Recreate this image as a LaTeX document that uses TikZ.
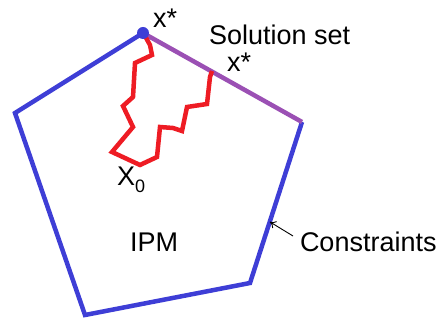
\documentclass[tikz,border=0pt]{standalone}
\usepackage{fontspec}
\setmainfont{Liberation Sans}
\usetikzlibrary{arrows.meta,calc}
\definecolor{polyblue}{RGB}{62,62,214}
\definecolor{solpurple}{RGB}{155,80,180}
\definecolor{pathred}{RGB}{238,28,36}
\tikzset{
  edge/.style={draw=polyblue, line width=4.5pt, line join=miter},
  solution/.style={draw=solpurple, line width=4.5pt},
  ipmpath/.style={draw=pathred, line width=4.5pt, line join=miter},
  lbl/.style={inner sep=0pt, outer sep=0pt, font=\fontsize{27}{30}\selectfont},
  pointer/.style={draw=black, line width=0.9pt, -{To[length=6pt,width=8pt]}}
}
\begin{document}
\begin{tikzpicture}[x=1pt,y=-1pt]
\useasboundingbox (0,0) rectangle (442,320);
% pentagon vertices
\coordinate (T) at (143,33);
\coordinate (R) at (302,122);
\coordinate (BR) at (250,283);
\coordinate (BL) at (85,315);
\coordinate (L) at (15,113);
\draw[edge] (T) -- (L) -- (BL) -- (BR) -- (R);
\draw[solution] (T) -- (R);
% interior-point path
\draw[ipmpath] (145,36) -- (150,45) -- (152,55) -- (135,63) -- (133,97) -- (123,106)
  -- (133,127) -- (112,152) -- (140,165) -- (157,157) -- (160,127) -- (173,128)
  -- (182,131) -- (187,107) -- (207,104) -- (210,77) -- (212,71);
\fill[polyblue] (T) circle (6);
% labels
\node[lbl, anchor=base west] (xs1) at (153,28) {x*};
\node[lbl, anchor=base west] (sol) at (209,45) {Solution set};
\node[lbl, anchor=base west] (xs2) at (227,72) {x*};
\node[lbl, anchor=base west] (x0) at (117,186) {X\raisebox{-7pt}{\fontsize{18}{20}\selectfont 0}};
\node[lbl, anchor=base west] (ipm) at (130,252) {IPM};
\node[lbl, anchor=base west] (con) at (300,252) {Constraints};
\coordinate (tip) at ($(R)!0.62!(BR)$);
\draw[pointer] (293,236) -- (tip);
\end{tikzpicture}
\end{document}
